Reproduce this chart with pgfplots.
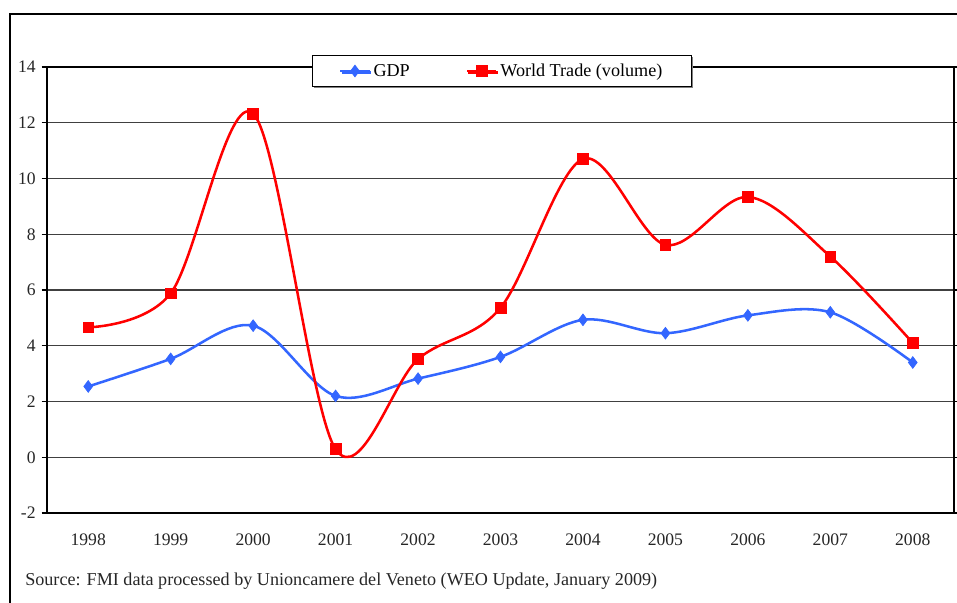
\documentclass[border=0pt]{standalone}
\usepackage{pgfplots}
\pgfplotsset{compat=1.18}
\usepackage{fontspec}
\setmainfont{Liberation Serif}
\usetikzlibrary{shadows}
\definecolor{gdpblue}{RGB}{51,102,255}
\definecolor{tradered}{RGB}{255,0,0}
\begin{document}
\begin{tikzpicture}
\useasboundingbox (-35.25pt,-67.5pt) rectangle (682.5pt,384.75pt);
\draw[line width=0.9pt,black] (-27.75pt,-80pt) -- (-27.75pt,374.25pt) -- (700pt,374.25pt);
\begin{axis}[
  scale only axis,
  width=680.25pt, height=334.5pt,
  xmin=-0.5, xmax=10.5,
  ymin=-2, ymax=14,
  xtick={0,...,10},
  xticklabels={1998,1999,2000,2001,2002,2003,2004,2005,2006,2007,2008},
  ytick={-2,0,...,14},
  yticklabels={-2,0,2,4,6,8,10,12,14},
  major x tick style={draw=none},
  ytick style={black, line width=0.8pt},
  tick align=outside,
  major tick length=4pt,
  ymajorgrids,
  grid style={black!75, line width=0.8pt},
  axis line style={black, line width=0.8pt},
  tick label style={font=\fontsize{13.2}{15}\selectfont, text=black!85},
  xticklabel style={yshift=-8pt},
  yticklabel style={xshift=-1pt},
  legend style={at={(0.5017,0.991)}, anchor=center, legend columns=2,
    draw=black, line width=0.8pt, fill=white,
    font=\fontsize{13.6}{15}\selectfont,
    inner xsep=20pt, inner ysep=4pt,
    drop shadow={shadow xshift=1pt, shadow yshift=-1pt, fill=black!50, opacity=1},
    /tikz/every even column/.append style={column sep=40pt}},
  legend cell align=left,
  legend image code/.code={
    \draw[#1] (0pt,0pt) -- (11pt,0pt) -- (22pt,0pt);
    \draw[#1, only marks] plot coordinates {(11pt,0pt)};
  },
]
\addplot[smooth, tension=0.55, gdpblue, line width=1.9pt, mark=diamond*, mark size=4.4pt, mark options={line width=0.5pt, fill=gdpblue}]
  coordinates {(0,2.54) (1,3.53) (2,4.72) (3,2.2) (4,2.82) (5,3.6) (6,4.93) (7,4.45) (8,5.09) (9,5.2) (10,3.4)};
\addlegendentry{GDP}
\addplot[smooth, tension=0.55, tradered, line width=1.9pt, mark=square*, mark size=4pt, mark options={line width=0.5pt, fill=tradered}]
  coordinates {(0,4.66) (1,5.88) (2,12.33) (3,0.29) (4,3.52) (5,5.36) (6,10.7) (7,7.62) (8,9.34) (9,7.2) (10,4.1)};
\addlegendentry{World Trade (volume)}
\end{axis}
\node[anchor=base west, inner sep=0pt, font=\fontsize{13.6}{15}\selectfont, text=black!85] at (-16.5pt,-54pt) {Source: FMI data processed by Unioncamere del Veneto (WEO Update, January 2009)};
\end{tikzpicture}
\end{document}
